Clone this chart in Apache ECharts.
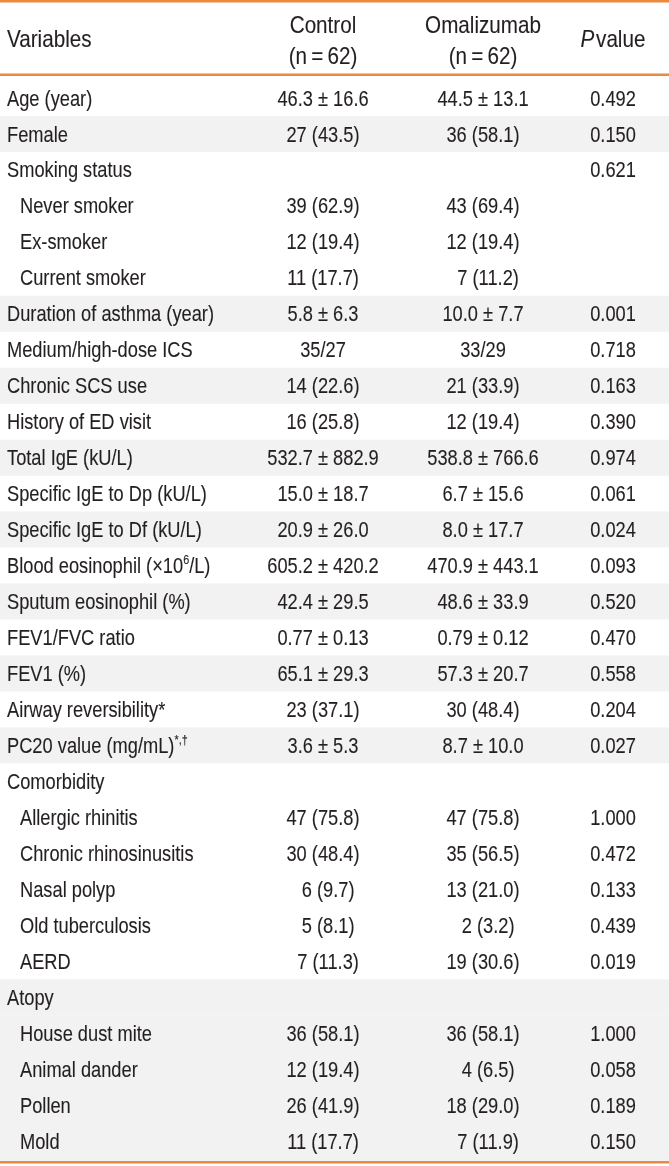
<!DOCTYPE html>
<html><head><meta charset="utf-8">
<script src="https://cdn.jsdelivr.net/npm/echarts@6/dist/echarts.min.js"></script>
<style>html,body{margin:0;padding:0;background:#fff}#c{width:669px;height:1166px}</style>
</head><body><div id="c"></div>
<script>
// ---------- data ----------
const headers = ['Variables', 'Control\n(n\u2009=\u200962)', 'Omalizumab\n(n\u2009=\u200962)', '{i|P}\u200avalue'];
const variables = ['Age (year)', 'Female', 'Smoking status', 'Never smoker', 'Ex-smoker', 'Current smoker',
  'Duration of asthma (year)', 'Medium/high-dose ICS', 'Chronic SCS use', 'History of ED visit',
  'Total IgE (kU/L)', 'Specific IgE to Dp (kU/L)', 'Specific IgE to Df (kU/L)',
  'Blood eosinophil (\u00d710{sup|6}/L)', 'Sputum eosinophil (%)', 'FEV1/FVC ratio', 'FEV1 (%)',
  'Airway reversibility*', 'PC20 value (mg/mL){sup|*,\u2020}', 'Comorbidity', 'Allergic rhinitis',
  'Chronic rhinosinusitis', 'Nasal polyp', 'Old tuberculosis', 'AERD', 'Atopy', 'House dust mite',
  'Animal dander', 'Pollen', 'Mold'];
const indentLevel = [0,0,0,1,1,1,0,0,0,0,0,0,0,0,0,0,0,0,0,0,1,1,1,1,1,0,1,1,1,1];
const controlValues = ['46.3\u00b116.6','27 (43.5)','','39 (62.9)','12 (19.4)','11 (17.7)','5.8\u00b16.3','35/27',
  '14 (22.6)','16 (25.8)','532.7\u00b1882.9','15.0\u00b118.7','20.9\u00b126.0','605.2\u00b1420.2','42.4\u00b129.5',
  '0.77\u00b10.13','65.1\u00b129.3','23 (37.1)','3.6\u00b15.3','','47 (75.8)','30 (48.4)','6 (9.7)','5 (8.1)',
  '7 (11.3)','','36 (58.1)','12 (19.4)','26 (41.9)','11 (17.7)'];
const omalizumabValues = ['44.5\u00b113.1','36 (58.1)','','43 (69.4)','12 (19.4)','7 (11.2)','10.0\u00b17.7','33/29',
  '21 (33.9)','12 (19.4)','538.8\u00b1766.6','6.7\u00b115.6','8.0\u00b117.7','470.9\u00b1443.1','48.6\u00b133.9',
  '0.79\u00b10.12','57.3\u00b120.7','30 (48.4)','8.7\u00b110.0','','47 (75.8)','35 (56.5)','13 (21.0)','2 (3.2)',
  '19 (30.6)','','36 (58.1)','4 (6.5)','18 (29.0)','7 (11.9)'];
const pValues = ['0.492','0.150','0.621','','','','0.001','0.718','0.163','0.390','0.974','0.061','0.024','0.093',
  '0.520','0.470','0.558','0.204','0.027','','1.000','0.472','0.133','0.439','0.019','','1.000','0.058','0.189','0.150'];

// ---------- layout & style ----------
const W = 669;
const X_VAR = 7, X_INDENT = 20, X_CTRL = 323, X_OMA = 483, X_P = 613;
const FONT = '"Liberation Sans", Arial, sans-serif';
const FS = 22, SQ = 0.83, FS_HEAD = 24, SQ_HEAD = 0.86;
const INK = '#231f20';
const ORANGE = '#e98a3c';
const SHADE = '#f2f2f2';
const STROKE_W = 0.12;

const shaded = [];
let band = -1;
indentLevel.forEach(lv => { if (lv === 0) band++; shaded.push(band % 2 === 1); });

// numbers: spaces round ±, figure space before single-digit counts
function fmt(s) {
  s = s.replace(/\u00b1/g, ' \u00b1 ');
  return /^\d \(/.test(s) ? '\u2007' + s : s;
}
function richStyles(fs) {
  return {
    sup: { fontSize: Math.round(fs * 0.6), fontFamily: FONT, fill: INK, stroke: INK, lineWidth: STROKE_W,
      verticalAlign: 'top', lineHeight: Math.round(fs * 0.75) },
    i: { fontSize: fs, fontFamily: FONT, fontStyle: 'italic', fill: INK, stroke: INK, lineWidth: STROKE_W }
  };
}
function txt(text, x, y, align, fs, sq, lh) {
  return { type: 'text', x, y, scaleX: sq, scaleY: 1,
    style: { text, x: 0, y: 0, align, verticalAlign: 'middle', fontSize: fs, fontFamily: FONT,
      fill: INK, stroke: INK, lineWidth: STROKE_W,
      lineHeight: lh || Math.round(fs * 1.2), rich: richStyles(fs) } };
}

function headerRender(params, api) {
  const c = api.coord([0, api.value(1)]);
  const h = api.size([0, 1])[1];
  const top = c[1] - h / 2;
  const px = v => api.coord([v, 0])[0];
  const w = px(W) - px(0);
  return { type: 'group', children: [
    { type: 'rect', shape: { x: px(0), y: top, width: w, height: 2.5 }, style: { fill: ORANGE } },
    { type: 'rect', shape: { x: px(0), y: top + h - 2.5, width: w, height: 2.5 }, style: { fill: ORANGE } },
    txt(headers[0], px(X_VAR), c[1] + 2, 'left', FS_HEAD, SQ_HEAD),
    txt(headers[1], px(X_CTRL), c[1] + 4, 'center', FS_HEAD, SQ_HEAD, 31),
    txt(headers[2], px(X_OMA), c[1] + 4, 'center', FS_HEAD, SQ_HEAD, 31),
    txt(headers[3], px(X_P), c[1] + 2, 'center', FS_HEAD, SQ_HEAD)
  ] };
}

function bodyRender(params, api) {
  const i = api.value(1);
  const c = api.coord([0, i]);
  const h = api.size([0, 1])[1];
  const top = c[1] - h / 2;
  const ty = c[1] + 1.5;
  const px = v => api.coord([v, i])[0];
  const w = px(W) - px(0);
  const last = i === variables.length - 1;
  const children = [];
  if (shaded[i]) children.push({ type: 'rect', shape: { x: px(0), y: top, width: w, height: h + (last ? 2 : 0) }, style: { fill: SHADE } });
  children.push(txt(variables[i], px(indentLevel[i] ? X_INDENT : X_VAR), ty, 'left', FS, SQ));
  children.push(txt(fmt(controlValues[i]), px(X_CTRL), ty, 'center', FS, SQ));
  children.push(txt(fmt(omalizumabValues[i]), px(X_OMA), ty, 'center', FS, SQ));
  children.push(txt(pValues[i], px(X_P), ty, 'center', FS, SQ));
  if (last)
    children.push({ type: 'rect', shape: { x: px(0), y: top + h + 2, width: w, height: 2.5 }, style: { fill: ORANGE } });
  return { type: 'group', children };
}

const chart = echarts.init(document.getElementById('c'), null, { renderer: 'canvas' });
chart.setOption({
  animation: false,
  backgroundColor: '#ffffff',
  grid: [
    { left: 0, right: 0, top: 0, height: 76 },
    { left: 0, right: 0, top: 80, bottom: 7 }
  ],
  xAxis: [
    { type: 'value', min: 0, max: W, show: false, gridIndex: 0 },
    { type: 'value', min: 0, max: W, show: false, gridIndex: 1 }
  ],
  yAxis: [
    { type: 'category', data: ['header'], show: false, gridIndex: 0 },
    { type: 'category', data: variables, inverse: true, show: false, gridIndex: 1 }
  ],
  series: [
    { type: 'custom', xAxisIndex: 0, yAxisIndex: 0, clip: false, data: [[0, 0]], renderItem: headerRender },
    { type: 'custom', xAxisIndex: 1, yAxisIndex: 1, clip: false, data: variables.map((v, i) => [0, i]), renderItem: bodyRender }
  ]
});
</script></body></html>
